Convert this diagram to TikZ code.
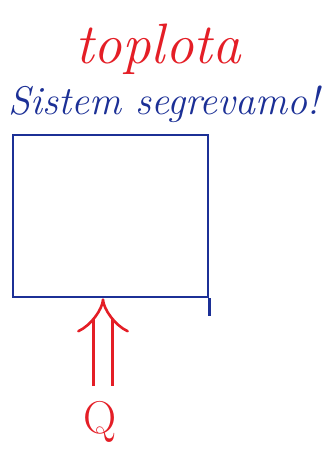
\documentclass[tikz,border=0pt]{standalone}
\usepackage{xcolor}
\usetikzlibrary{arrows.meta,positioning}
\definecolor{penred}{RGB}{228,30,38}
\definecolor{penblue}{RGB}{28,48,150}
\tikzset{
  sysbox/.style={
    draw=penblue,
    line width=2.6pt,
    minimum width=195pt,
    minimum height=162pt,
    inner sep=0pt
  },
  redlabel/.style={
    text=penred,
    inner sep=0pt,
    font=\fontsize{57}{62}\selectfont\itshape
  },
  bluelabel/.style={
    text=penblue,
    inner sep=0pt,
    font=\fontsize{40}{46}\selectfont\itshape
  },
  heat/.style={
    draw=penred,
    line width=2.6pt,
    double=white,
    double distance=16pt,
    -{Implies[length=8pt]}
  }
}
\begin{document}
\begin{tikzpicture}[x=1pt,y=1pt,node distance=8pt]
  \useasboundingbox (0,0) rectangle (323,452);
  \node[sysbox] (sistem) at (110.5,236) {};
  \node[bluelabel, anchor=base] (naslov) at (164,337) {Sistem segrevamo!};
  \node[redlabel, anchor=base] (toplota) at (158,388) {toplota};
  \node[redlabel, font=\fontsize{46}{50}\selectfont] (q) at (100,30) {Q};

  \draw[heat] ([xshift=3pt,yshift=15pt]q.north) -- ([xshift=3pt]q.north |- sistem.south);
  \draw[penblue, line width=2.6pt] (sistem.south east) -- ++(0,-18);
\end{tikzpicture}
\end{document}
